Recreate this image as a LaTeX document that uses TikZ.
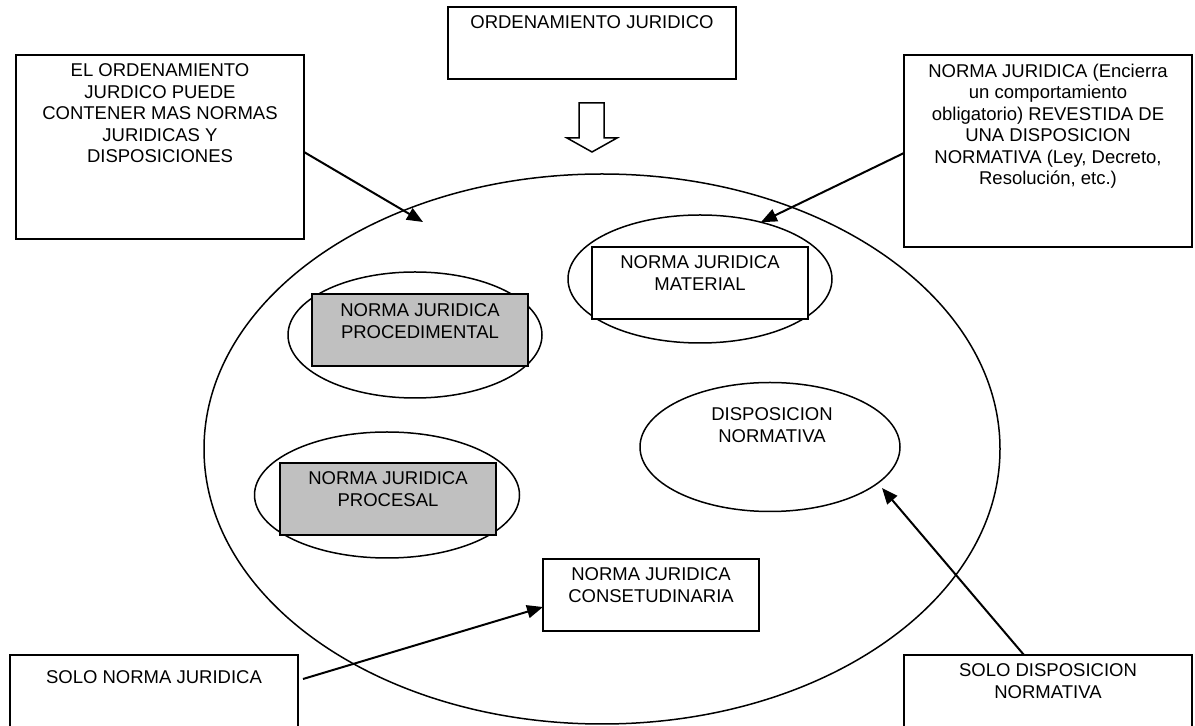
\documentclass[tikz,border=0pt]{standalone}
\usepackage{fontspec}
\setmainfont{Liberation Sans}
\usetikzlibrary{shapes.geometric,arrows.meta,positioning}
\definecolor{gris}{RGB}{192,192,192}
\tikzset{
  caja/.style={draw, line width=1pt, fill=white, inner sep=0pt, outer sep=0pt, anchor=north west},
  chica/.style={caja, minimum width=108pt, minimum height=36pt},
  grande/.style={caja, minimum width=144pt},
  elipse/.style={draw, ellipse, line width=0.75pt, inner sep=0pt, outer sep=0pt},
  texto/.style={align=center, inner sep=0pt, font=\fontsize{9.25}{10.75}\selectfont},
  flecha/.style={line width=1pt, -{Triangle[length=8pt,width=6.5pt]}}
}
\begin{document}
\begin{tikzpicture}[x=0.5pt,y=-0.5pt]
      \useasboundingbox (0,0) rectangle (1195,726);
      \clip (0,0) rectangle (1195,726);
      %ordenamiento
      \node[elipse, minimum width=398pt, minimum height=275pt] (ord) at (602,449) {};
      \node[elipse, minimum width=132pt, minimum height=64pt] (mat) at (700,279) {};
      \node[elipse, minimum width=127pt, minimum height=63pt] (proc) at (415,335) {};
      \node[elipse, minimum width=132.5pt, minimum height=63pt] (pres) at (387,495) {};
      \node[elipse, minimum width=130pt, minimum height=64.5pt] (disp) at (770,447) {};
      \node[texto] (dispT) at (772,425) {DISPOSICION\\NORMATIVA};
      %cajas de arriba
      \node[caja, minimum width=144pt, minimum height=36pt] (tit) at (448,7) {};
      \node[texto, below=4.2pt of tit.north] (titT) {ORDENAMIENTO JURIDICO};
      \node[grande, minimum height=92pt] (izq) at (16,55) {};
      \node[texto, below=4.2pt of izq.north] (izqT) {EL ORDENAMIENTO\\JURDICO PUEDE\\CONTENER MAS NORMAS\\JURIDICAS Y\\DISPOSICIONES};
      \node[grande, minimum height=96pt] (der) at (904,55) {};
      \node[texto, below=4.2pt of der.north] (derT) {NORMA JURIDICA (Encierra\\un comportamiento\\obligatorio) REVESTIDA DE\\UNA DISPOSICION\\NORMATIVA (Ley, Decreto,\\Resolución, etc.)};
      %flecha hueca
      \draw[line width=0.75pt, fill=white] (579,103) -- (604,103) -- (604,138) -- (617,138) -- (592,152) -- (567,138) -- (579,138) -- cycle;
      %normas
      \node[chica] (matC) at (592,247) {};
      \node[texto, below=4.2pt of matC.north] (matT) {NORMA JURIDICA\\MATERIAL};
      \node[chica, fill=gris] (procC) at (312,294) {};
      \node[texto, below=4.7pt of procC.north] (procT) {NORMA JURIDICA\\PROCEDIMENTAL};
      \node[chica, fill=gris] (presC) at (280,463) {};
      \node[texto, below=4.2pt of presC.north] (presT) {NORMA JURIDICA\\PROCESAL};
      \node[chica] (cons) at (543,559) {};
      \node[texto, below=4.2pt of cons.north] (consT) {NORMA JURIDICA\\CONSETUDINARIA};
      %cajas de abajo
      \node[grande, minimum height=100pt] (sIzq) at (10,655) {};
      \node[texto, below=7.7pt of sIzq.north] (sIzqT) {SOLO NORMA JURIDICA};
      \node[grande, minimum height=100pt] (sDer) at (904,655) {};
      \node[texto, below=4.2pt of sDer.north] (sDerT) {SOLO DISPOSICION\\NORMATIVA};
      %flechas
      \coordinate (cIzq) at (423,222);
      \coordinate (cDisp) at (882,488);
      \draw[flecha] ([yshift=-2.5pt]izq.east) -- (cIzq);
      \draw[flecha] ([yshift=-1pt]der.west) -- (mat.43);
      \draw[flecha] ([xshift=2.5pt,yshift=-12pt]sIzq.north east) -- ([yshift=-6pt]cons.west);
      \draw[flecha] ([xshift=-12pt]sDer.north) -- (cDisp);
\end{tikzpicture}
\end{document}
